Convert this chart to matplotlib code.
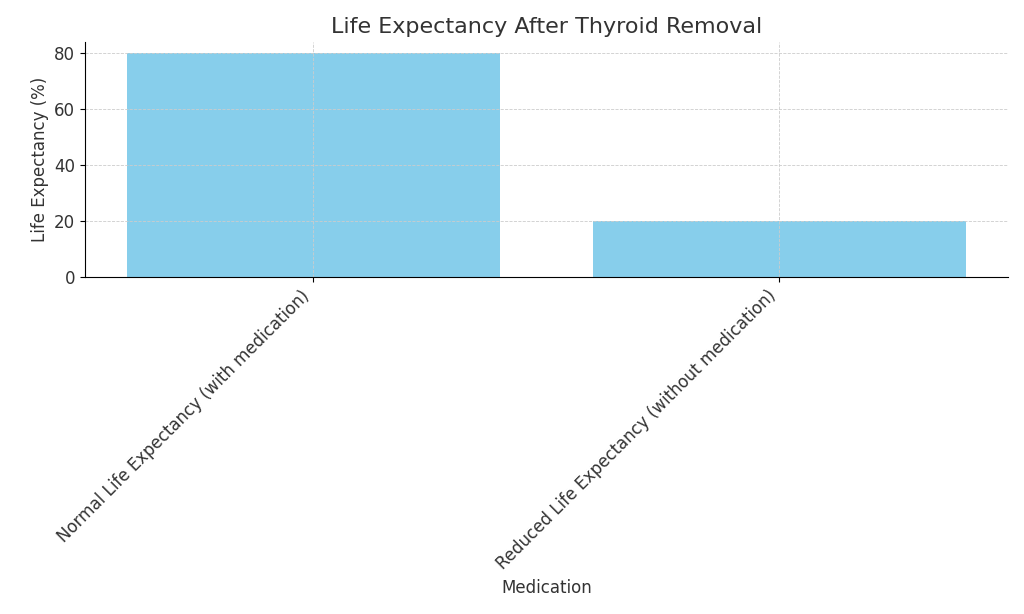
import matplotlib
matplotlib.use("Agg")
import matplotlib.pyplot as plt

categories = ["Normal Life Expectancy (with medication)",
              "Reduced Life Expectancy (without medication)"]
life_expectancy = [80, 20]

text_color = "#333333"

fig, ax = plt.subplots(figsize=(10.24, 6.14), dpi=100)
fig.subplots_adjust(left=0.083, right=0.984, top=0.932, bottom=0.549)

ax.bar(categories, life_expectancy, color="skyblue", width=0.8, zorder=1)

ax.set_title("Life Expectancy After Thyroid Removal", fontsize=16, color=text_color)
ax.set_xlabel("Medication", fontsize=12, color=text_color)
ax.set_ylabel("Life Expectancy (%)", fontsize=12, color=text_color)

ax.set_xticks(range(len(categories)))
ax.set_xticklabels(categories, rotation=45, ha="right", fontsize=12, color=text_color)
ax.tick_params(axis="y", labelsize=12, labelcolor=text_color)

ax.grid(True, linestyle="--", linewidth=0.6, color="#cccccc", zorder=2)
ax.spines["top"].set_visible(False)
ax.spines["right"].set_visible(False)

plt.savefig("out.png", dpi=100)
